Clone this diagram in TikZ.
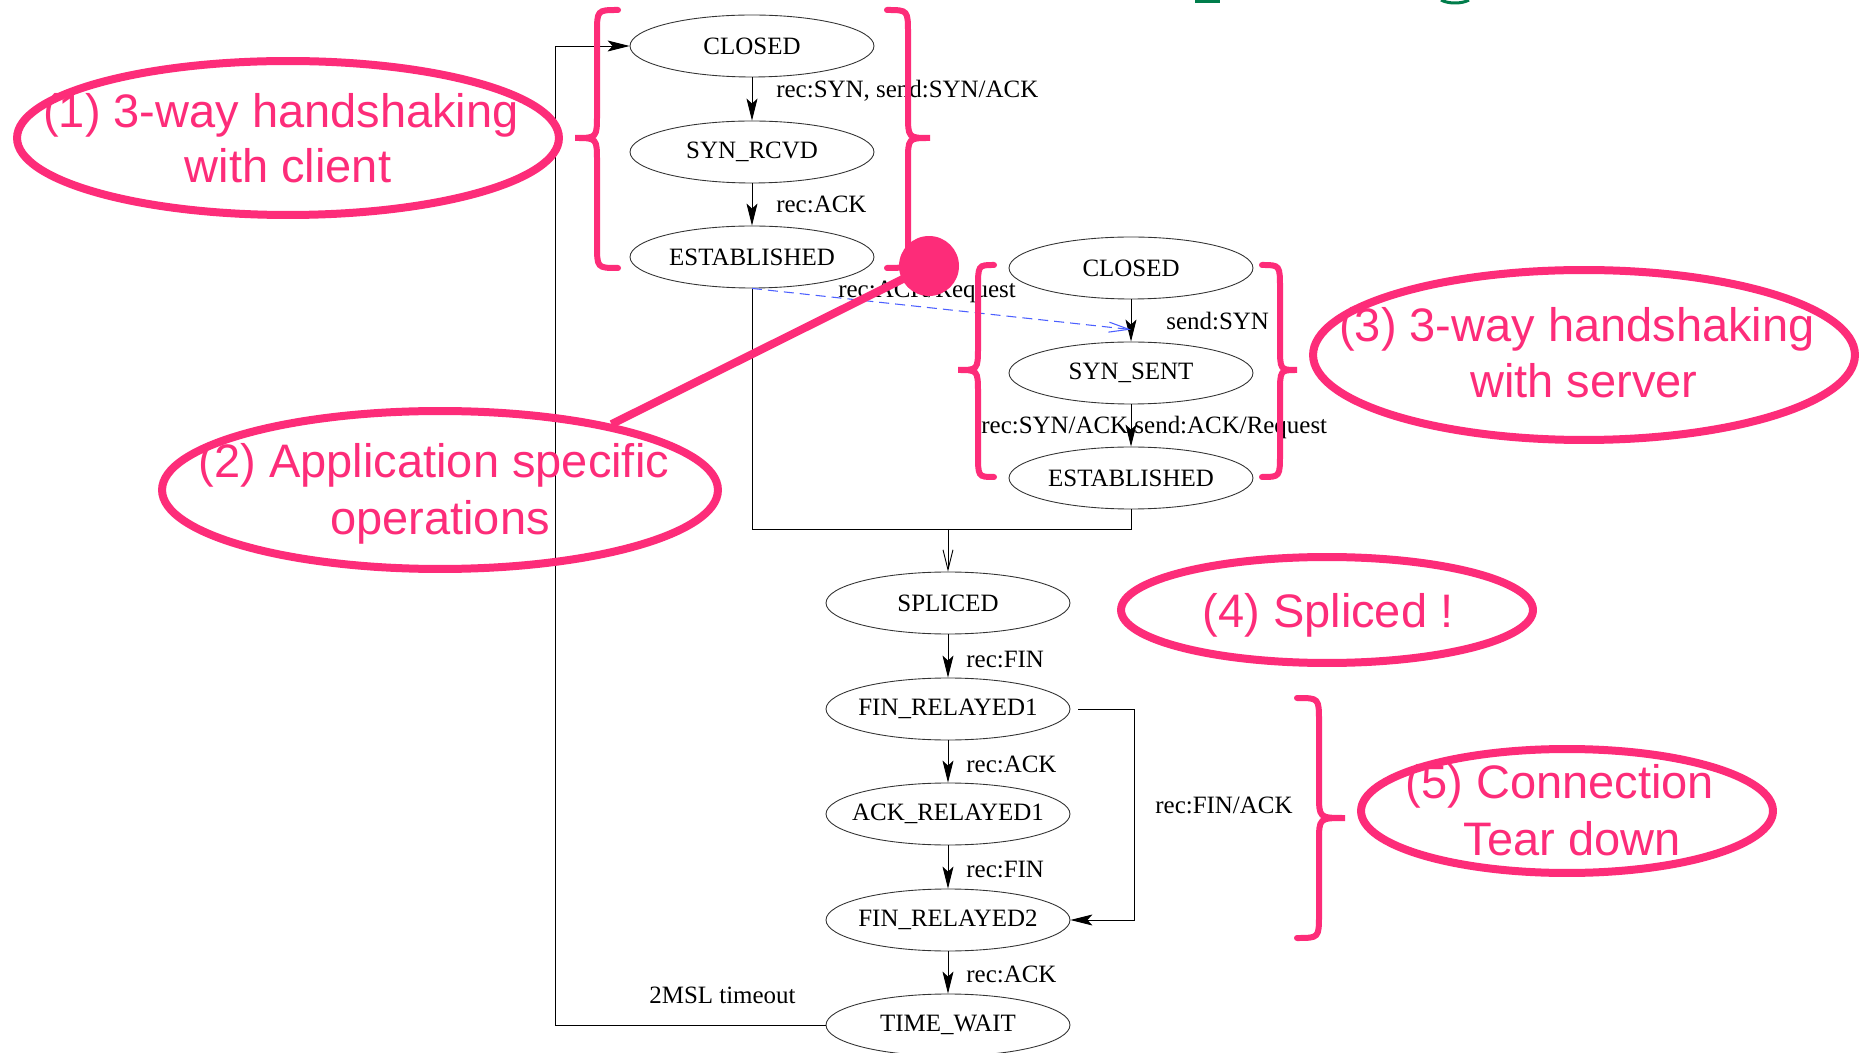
\documentclass[tikz,border=0pt]{standalone}
\usepackage{fontspec}
\setmainfont{Liberation Serif}
\newfontfamily\notefont{Liberation Sans}
\usetikzlibrary{arrows.meta,shapes.geometric}
\definecolor{notepink}{RGB}{253,44,121}
\definecolor{hintblue}{RGB}{75,95,255}
\definecolor{titlegreen}{RGB}{0,125,75}
% curly brace: #1 end x, #2 stem x, #3 tip x, #4 top y, #5 tip y, #6 bottom y
\newcommand{\curlybrace}[6]{%
  \draw[bracestroke] (#1,#4) .. controls (#2,#4) .. (#2,#4+24)
    -- (#2,#5-24) .. controls (#2,#5) .. (#3,#5)
    .. controls (#2,#5) .. (#2,#5+24)
    -- (#2,#6-24) .. controls (#2,#6) .. (#1,#6);}
\begin{document}
\begin{tikzpicture}[x=0.02cm,y=-0.02cm,
  state/.style={ellipse, draw=black!80, line width=0.5pt, minimum width=4.88cm,
    minimum height=1.24cm, inner xsep=-0.2cm, inner ysep=0pt,
    font=\fontsize{14.2pt}{17pt}\selectfont},
  lbl/.style={anchor=base west, inner sep=0pt, font=\fontsize{14.2pt}{17pt}\selectfont},
  flow/.style={draw=black, line width=0.5pt, -{Stealth[length=0.44cm,width=0.22cm,inset=0.1cm]}},
  openflow/.style={draw=black, line width=0.5pt, -{Straight Barb[length=0.4cm,width=0.2cm]}},
  hint/.style={draw=hintblue, line width=0.6pt, dash pattern=on 0.2cm off 0.12cm,
    -{Straight Barb[length=0.4cm,width=0.2cm]}},
  note/.style={ellipse, draw=notepink, line width=0.16cm, inner sep=0pt},
  notetext/.style={anchor=base, inner sep=0pt, text=notepink,
    font=\notefont\fontsize{26.75pt}{32pt}\selectfont},
  bracestroke/.style={draw=notepink, line width=0.12cm, line cap=round}]

\fill[white] (0,0) rectangle (1862,1053);
\useasboundingbox (0,0) rectangle (1862,1053);

% title remnants along the top edge
\fill[titlegreen] (1195,0) rectangle (1220,3);
\draw[titlegreen, line width=0.06cm] (1441,0) .. controls (1448,4) and (1462,4) .. (1469,0);

% client side states
\node[state] (C1) at (752,46) {CLOSED};
\node[state] (SR) at (752,152) {SYN\_RCVD};
\node[state] (E1) at (752,257) {ESTABLISHED};
% server side states
\node[state] (C2) at (1131,268) {CLOSED};
\node[state] (SS) at (1131,373) {SYN\_SENT};
\node[state] (E2) at (1131,478) {ESTABLISHED};
% spliced connection and teardown
\node[state] (SP) at (948,603) {SPLICED};
\node[state] (F1) at (948,709) {FIN\_RELAYED1};
\node[state] (A1) at (948,814) {ACK\_RELAYED1};
\node[state] (F2) at (948,920) {FIN\_RELAYED2};
\node[state] (TW) at (948,1025) {TIME\_WAIT};

% transitions
\draw[flow] (C1) -- (SR);
\draw[flow] (SR) -- (E1);
\draw[flow] (C2) -- (SS);
\draw[flow] (SS) -- (E2);
\coordinate (join) at (948,529);
\draw[line width=0.5pt] (E1.south) |- (join);
\draw[line width=0.5pt] (E2.south) |- (join);
\draw[openflow] (join) -- (SP);
\draw[hint] (E1.south) -- ([yshift=0.24cm]SS.north);
\draw[flow] (SP) -- (F1);
\draw[flow] (F1) -- (A1);
\draw[flow] (A1) -- (F2);
\draw[flow] (F2) -- (TW);
\coordinate (bypass) at (1134,709);
\draw[flow] ([xshift=0.16cm]F1.east) -- (bypass) |- (F2.east);
\coordinate (loop) at (555,46);
\draw[flow] (TW.west) -| (loop) -- (C1.west);

% transition labels
\node[lbl] (t1) at (776,98) {rec:SYN, send:SYN/ACK};
\node[lbl] (t2) at (776,213) {rec:ACK};
\node[lbl] (t3) at (838,298) {rec:ACK/Request};
\node[lbl] (t4) at (1166,330) {send:SYN};
\node[lbl] (t5) at (981,434) {rec:SYN/ACK send:ACK/Request};
\node[lbl] (t6) at (966,667) {rec:FIN};
\node[lbl] (t7) at (966,772) {rec:ACK};
\node[lbl] (t8) at (966,877) {rec:FIN};
\node[lbl] (t9) at (966,982) {rec:ACK};
\node[lbl] (t10) at (1155,813) {rec:FIN/ACK};
\node[lbl] (t11) at (649,1003) {2MSL timeout};

% phase braces
\curlybrace{618}{597}{575}{10}{138}{268}
\curlybrace{887}{908}{930}{10}{138}{268}
\curlybrace{994}{978}{958}{265}{370}{477}
\curlybrace{1262}{1280}{1297}{265}{370}{477}
\curlybrace{1297}{1319}{1345}{698}{818}{938}

% phase notes
\node[note, minimum width=10.84cm, minimum height=3.08cm] (N1) at (288,138) {};
\node[notetext] (N1a) at (281,128) {(1) 3-way handshaking};
\node[notetext] (N1b) at (288,183) {with client};

\node[note, minimum width=11.12cm, minimum height=3.16cm] (N2) at (440,490) {};
\node[notetext] (N2a) at (434,478) {(2) Application specific};
\node[notetext] (N2b) at (440,535) {operations};

\node[note, minimum width=10.84cm, minimum height=3.4cm] (N3) at (1584,355) {};
\node[notetext] (N3a) at (1577,342) {(3) 3-way handshaking};
\node[notetext] (N3b) at (1584,398) {with server};

\node[note, minimum width=8.24cm, minimum height=2.12cm] (N4) at (1327,610) {};
\node[notetext] (N4a) at (1328,627) {(4) Spliced !};

\node[note, minimum width=8.24cm, minimum height=2.48cm] (N5) at (1567,811) {};
\node[notetext] (N5a) at (1560,798) {(5) Connection};
\node[notetext] (N5b) at (1572,855) {Tear down};

% pointer to the application step
\node[circle, fill=notepink, minimum size=1.2cm, inner sep=0pt] (dot) at (929,266) {};
\draw[notepink, line width=0.16cm] (N2.21) -- (dot.center);
\end{tikzpicture}
\end{document}
